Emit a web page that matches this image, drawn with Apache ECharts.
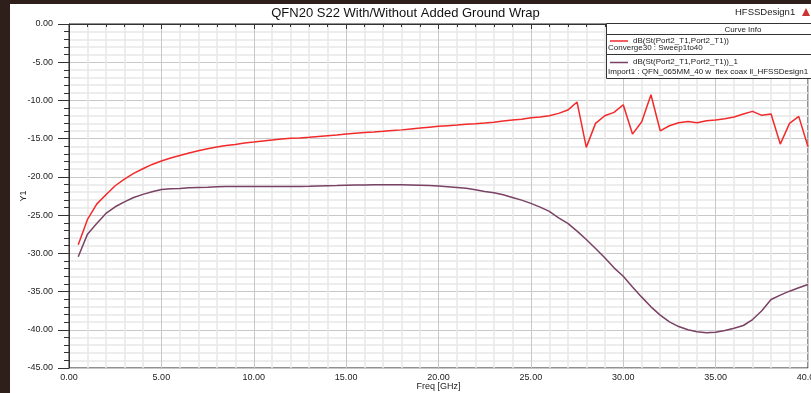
<!DOCTYPE html>
<html>
<head>
<meta charset="utf-8">
<script src="https://cdn.jsdelivr.net/npm/echarts@6/dist/echarts.min.js"></script>
<style>
  html, body { margin: 0; padding: 0; background: #2e1f1a; }
  #main { width: 811px; height: 393px; }
</style>
</head>
<body>
<div id="main"></div>
<script>
// 频率点 (GHz)
var freq = [0.5,1.0,1.5,2.0,2.5,3.0,3.5,4.0,4.5,5.0,5.5,6.0,6.5,7.0,7.5,8.0,8.5,9.0,9.5,10.0,
  10.5,11.0,11.5,12.0,12.5,13.0,13.5,14.0,14.5,15.0,15.5,16.0,16.5,17.0,17.5,18.0,18.5,19.0,19.5,20.0,
  20.5,21.0,21.5,22.0,22.5,23.0,23.5,24.0,24.5,25.0,25.5,26.0,26.5,27.0,27.5,28.0,28.5,29.0,29.5,30.0,
  30.5,31.0,31.5,32.0,32.5,33.0,33.5,34.0,34.5,35.0,35.5,36.0,36.5,37.0,37.5,38.0,38.5,39.0,39.5,40.0];

// dB(St(Port2_T1,Port2_T1))  Converge30 : Sweep1to40
var s22Converge = [-28.88,-25.57,-23.56,-22.34,-21.16,-20.29,-19.55,-18.94,-18.37,-17.93,
  -17.54,-17.19,-16.88,-16.58,-16.32,-16.10,-15.88,-15.75,-15.58,-15.45,
  -15.31,-15.18,-15.05,-14.96,-14.92,-14.83,-14.73,-14.63,-14.53,-14.40,
  -14.30,-14.20,-14.12,-14.03,-13.93,-13.85,-13.73,-13.62,-13.50,-13.38,
  -13.30,-13.22,-13.13,-13.05,-12.96,-12.85,-12.70,-12.55,-12.47,-12.26,
  -12.17,-12.00,-11.69,-11.26,-10.21,-16.14,-13.00,-12.00,-11.56,-10.56,
  -14.40,-12.79,-9.25,-13.97,-13.31,-12.92,-12.74,-12.92,-12.66,-12.57,
  -12.40,-12.17,-11.78,-11.43,-11.95,-11.78,-15.71,-13.00,-12.08,-16.06];

// dB(St(Port2_T1,Port2_T1))_1  Import1
var s22Import = [-30.45,-27.49,-26.09,-24.78,-23.91,-23.26,-22.69,-22.29,-21.95,-21.64,
  -21.56,-21.51,-21.42,-21.38,-21.34,-21.29,-21.27,-21.25,-21.25,-21.25,
  -21.25,-21.25,-21.25,-21.25,-21.25,-21.22,-21.18,-21.15,-21.12,-21.08,
  -21.06,-21.05,-21.04,-21.03,-21.03,-21.03,-21.05,-21.08,-21.13,-21.20,
  -21.28,-21.38,-21.50,-21.68,-21.90,-22.07,-22.34,-22.69,-23.04,-23.47,
  -23.95,-24.52,-25.35,-26.09,-27.10,-28.19,-29.37,-30.59,-31.90,-32.99,
  -34.40,-35.73,-37.00,-38.09,-38.96,-39.58,-40.00,-40.27,-40.40,-40.31,
  -40.10,-39.79,-39.44,-38.66,-37.52,-36.04,-35.47,-34.95,-34.51,-34.08];

var seriesNames = ['dB(St(Port2_T1,Port2_T1))', 'dB(St(Port2_T1,Port2_T1))_1'];
var seriesNotes = ['Converge30 : Sweep1to40', 'Import1 : QFN_065MM_40 w  flex coax ll_HFSSDesign1'];
var seriesColors = ['#f22a2a', '#7a4264'];

function pairs(ys) {
  var out = [];
  for (var i = 0; i < freq.length; i++) out.push([freq[i], ys[i]]);
  return out;
}

var font = 'Arial, "Liberation Sans", sans-serif';
var chart = echarts.init(document.getElementById('main'));
var option = {
  backgroundColor: '#ffffff',
  animation: false,
  title: {
    text: 'QFN20 S22 With/Without Added Ground Wrap',
    left: 'center',
    top: 2,
    textStyle: { fontFamily: font, fontSize: 13, fontWeight: 'normal', color: '#111' }
  },
  grid: {
    left: 69, right: 3, top: 24, bottom: 25,
    outerBoundsMode: 'none',
    containLabel: false,
    show: true, borderColor: '#222', borderWidth: 1
  },
  xAxis: {
    type: 'value',
    min: 0, max: 40, interval: 5,
    name: 'Freq [GHz]',
    nameLocation: 'middle',
    nameGap: 14,
    nameMoveOverlap: false,
    nameTextStyle: { fontFamily: font, fontSize: 9, color: '#222' },
    axisLine: { lineStyle: { color: '#333' } },
    axisTick: { length: 5, lineStyle: { color: '#333' } },
    minorTick: { show: true, splitNumber: 5, length: 3, lineStyle: { color: '#333' } },
    axisLabel: {
      fontFamily: font, fontSize: 9, color: '#222', margin: 5,
      formatter: function (v) { return v.toFixed(2); }
    },
    splitLine: { lineStyle: { color: '#c8c8c8', width: 1 } },
    minorSplitLine: { show: true, lineStyle: { color: '#e8e8e8', width: 1.5 } }
  },
  yAxis: {
    type: 'value',
    min: -45, max: 0, interval: 5,
    name: 'Y1',
    nameLocation: 'middle',
    nameGap: 41,
    nameMoveOverlap: false,
    nameTextStyle: { fontFamily: font, fontSize: 9, color: '#222' },
    axisLine: { show: true, lineStyle: { color: '#333' } },
    axisTick: { show: true, length: 11, lineStyle: { color: '#333' } },
    minorTick: { show: true, splitNumber: 5, length: 5, lineStyle: { color: '#333' } },
    axisLabel: {
      fontFamily: font, fontSize: 9, color: '#222', margin: 16,
      formatter: function (v) { return v.toFixed(2); }
    },
    splitLine: { lineStyle: { color: '#c8c8c8', width: 1 } },
    minorSplitLine: { show: true, lineStyle: { color: '#e8e8e8', width: 1.5 } }
  },
  series: [
    {
      name: seriesNames[0], type: 'line', data: pairs(s22Converge),
      showSymbol: false, lineStyle: { color: seriesColors[0], width: 1.5 }, z: 3
    },
    {
      name: seriesNames[1], type: 'line', data: pairs(s22Import),
      showSymbol: false, lineStyle: { color: seriesColors[1], width: 1.5 }, z: 2
    }
  ],
  graphic: [
    // 深色边框
    { type: 'rect', shape: { x: 0, y: 0, width: 10, height: 393 }, style: { fill: '#2e1f1a' }, z: 100 },
    { type: 'rect', shape: { x: 0, y: 0, width: 811, height: 4 }, style: { fill: '#2e1f1a' }, z: 100 },
    { type: 'text', x: 735, y: 12, z: 100,
      style: { text: 'HFSSDesign1', font: '9.5px ' + font, fill: '#222', textVerticalAlign: 'middle' } },
    { type: 'polygon', shape: { points: [[802, 16], [806, 8], [810, 16]] }, style: { fill: '#c33' }, z: 100 },
    // Curve Info 图例框
    { type: 'rect', shape: { x: 606.5, y: 23.5, width: 260, height: 55 },
      style: { fill: '#fff', stroke: '#333', lineWidth: 1 }, z: 90 },
    { type: 'line', shape: { x1: 606, y1: 34.5, x2: 811, y2: 34.5 }, style: { stroke: '#333', lineWidth: 1 }, z: 91 },
    { type: 'line', shape: { x1: 606, y1: 54.5, x2: 811, y2: 54.5 }, style: { stroke: '#333', lineWidth: 1 }, z: 91 },
    { type: 'text', x: 743, y: 29.5, z: 92,
      style: { text: 'Curve Info', font: '8px ' + font, fill: '#222', textAlign: 'center', textVerticalAlign: 'middle' } },
    { type: 'line', shape: { x1: 610, y1: 41, x2: 628, y2: 41 }, style: { stroke: seriesColors[0], lineWidth: 1.5 }, z: 92 },
    { type: 'text', x: 633, y: 40.5, z: 92,
      style: { text: seriesNames[0], font: '8px ' + font, fill: '#222', textVerticalAlign: 'middle' } },
    { type: 'text', x: 608, y: 48, z: 92,
      style: { text: seriesNotes[0], font: '8px ' + font, fill: '#222', textVerticalAlign: 'middle' } },
    { type: 'line', shape: { x1: 610, y1: 62.5, x2: 628, y2: 62.5 }, style: { stroke: seriesColors[1], lineWidth: 1.5 }, z: 92 },
    { type: 'text', x: 633, y: 62, z: 92,
      style: { text: seriesNames[1], font: '8px ' + font, fill: '#222', textVerticalAlign: 'middle' } },
    { type: 'text', x: 608, y: 72, z: 92,
      style: { text: seriesNotes[1], font: '8px ' + font, fill: '#222', textVerticalAlign: 'middle' } }
  ]
};
chart.setOption(option);
</script>
</body>
</html>
